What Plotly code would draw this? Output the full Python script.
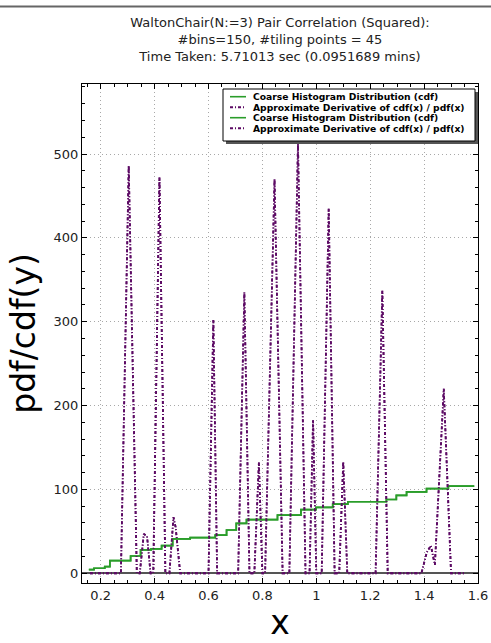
import plotly.graph_objects as go

# Green cdf step line (x at step starts, value)
cdf_x = [0.156, 0.175, 0.215, 0.234, 0.311, 0.348, 0.387, 0.426, 0.467, 0.532,
         0.625, 0.667, 0.703, 0.741, 0.856, 0.943, 0.999, 1.061, 1.117, 1.260,
         1.297, 1.335, 1.409, 1.490, 1.586]
cdf_y = [4.4, 6, 8, 15, 20.6, 27.8, 29, 33, 41, 42.5,
         45.6, 51.6, 59.5, 64, 69.4, 75.8, 78.6, 82.5, 85.3, 88,
         93, 97, 101, 104, 104]

# Purple approximate derivative (pdf)
pdf_x = [0.16, 0.275, 0.304, 0.334, 0.345, 0.36, 0.372, 0.385, 0.395, 0.418,
         0.44, 0.455, 0.47, 0.478, 0.495, 0.60, 0.618, 0.632, 0.71, 0.733,
         0.752, 0.77, 0.787, 0.80, 0.81, 0.845, 0.875, 0.90, 0.932, 0.96,
         0.975, 0.988, 1.00, 1.02, 1.046, 1.068, 1.085, 1.10, 1.115, 1.22,
         1.245, 1.265, 1.39, 1.41, 1.425, 1.435, 1.44, 1.473, 1.50, 1.55]
pdf_y = [0, 0, 486, 0, 0, 47, 44, 0, 0, 472,
         0, 0, 67, 55, 0, 0, 302, 0, 0, 335,
         0, 0, 132, 0, 0, 470, 0, 0, 512, 0,
         0, 183, 0, 0, 435, 0, 0, 133, 0, 0,
         337, 0, 0, 25, 33, 20, 10, 220, 0, 0]

x_ticks = [0.2, 0.4, 0.6, 0.8, 1.0, 1.2, 1.4, 1.6]
x_ticklabels = ["0.2", "0.4", "0.6", "0.8", "1", "1.2", "1.4", "1.6"]
y_ticks = [0, 100, 200, 300, 400, 500]

name_cdf = "Coarse Histogram Distribution (cdf)"
name_pdf = "Approximate Derivative of cdf(x) / pdf(x)"
legend_names = [name_cdf, name_pdf, name_cdf, name_pdf]

GREEN = "#2a9d2a"
PURPLE = "#5c0a64"
PDF_DASH = "3px,2px,1px,2px"

W, H = 491, 643
L, R, T, B = 82, 478, 84, 583
PW, PH = R - L, B - T

def px2paper_x(X):
    return (X - L) / PW

def px2paper_y(Y):
    return (B - Y) / PH

fig = go.Figure()
for _ in range(2):
    fig.add_trace(go.Scatter(x=cdf_x, y=cdf_y, mode="lines", line_shape="hv",
                             line=dict(color=GREEN, width=1.7), name=name_cdf,
                             showlegend=False))
    fig.add_trace(go.Scatter(x=pdf_x, y=pdf_y, mode="lines",
                             line=dict(color=PURPLE, width=1.8, dash=PDF_DASH),
                             name=name_pdf, showlegend=False))

axis_common = dict(
    showline=True, linecolor="black", linewidth=1, mirror="allticks",
    ticks="inside", ticklen=5, tickcolor="black", automargin=False,
    showgrid=True, gridcolor="#a8a8a8", griddash="1px,3px", gridwidth=1,
    tickfont=dict(family="DejaVu Sans", size=13, color="#222"),
)

fig.update_layout(
    width=W, height=H,
    margin=dict(l=L, r=W - R, t=T, b=H - B, autoexpand=False),
    paper_bgcolor="white", plot_bgcolor="white",
    font=dict(family="DejaVu Sans", color="#222"),
    title=dict(
        text="WaltonChair(N:=3) Pair Correlation (Squared):<br>#bins=150, #tiling points = 45<br>Time Taken: 5.71013 sec (0.0951689 mins)",
        x=(L + R) / 2 / W, xanchor="center", y=1 - 27 / H, yanchor="top",
        font=dict(family="DejaVu Sans", size=13, color="#222"),
    ),
    xaxis=dict(range=[0.1306, 1.6], tickvals=x_ticks, ticktext=x_ticklabels,
               minor=dict(dtick=0.05, tick0=0, ticks="inside", ticklen=3, tickcolor="black", showgrid=False),
               title=dict(text="x", font=dict(family="DejaVu Sans", size=33, color="black"), standoff=5),
               zeroline=False, **axis_common),
    yaxis=dict(range=[-11.6, 583.5], tickvals=y_ticks,
               minor=dict(dtick=20, tick0=0, ticks="inside", ticklen=3, tickcolor="black", showgrid=False),
               title=dict(text="pdf/cdf(y)", font=dict(family="DejaVu Sans", size=33, color="black"), standoff=8),
               zeroline=True, zerolinecolor="#555555", zerolinewidth=1.5, **axis_common),
    showlegend=False,
)

# top gray frame line
fig.add_shape(type="rect", xref="paper", yref="paper",
              x0=px2paper_x(0), x1=px2paper_x(W), y0=px2paper_y(7.5), y1=px2paper_y(5.5),
              fillcolor="#666666", line=dict(width=0), layer="above")

# legend box (matplotlib style with shadow)
lx0, lx1, ly0, ly1 = 223, 475, 89, 141
fig.add_shape(type="rect", xref="paper", yref="paper",
              x0=px2paper_x(lx0 + 3), x1=px2paper_x(lx1 + 3), y0=px2paper_y(ly0 + 3), y1=px2paper_y(ly1 + 3),
              fillcolor="#555555", line=dict(width=0), layer="above")
fig.add_shape(type="rect", xref="paper", yref="paper",
              x0=px2paper_x(lx0), x1=px2paper_x(lx1), y0=px2paper_y(ly0), y1=px2paper_y(ly1),
              fillcolor="white", line=dict(color="black", width=1), layer="above")
row_y = [96.7, 107.3, 117.7, 128.3]
for i, name in enumerate(legend_names):
    is_cdf = (i % 2 == 0)
    fig.add_shape(type="line", xref="paper", yref="paper",
                  x0=px2paper_x(230), x1=px2paper_x(246),
                  y0=px2paper_y(row_y[i]), y1=px2paper_y(row_y[i]),
                  line=dict(color=GREEN if is_cdf else PURPLE, width=1.6 if is_cdf else 2,
                            dash="solid" if is_cdf else PDF_DASH),
                  layer="above")
    fig.add_annotation(xref="paper", yref="paper", x=px2paper_x(251), y=px2paper_y(row_y[i]),
                       xanchor="left", yanchor="middle", showarrow=False, text="<b>" + name + "</b>",
                       font=dict(family="DejaVu Sans", size=9.2, color="black"))

fig.write_html("out.html", config={"displayModeBar": False},
               post_script="document.body.style.margin='0px';")
